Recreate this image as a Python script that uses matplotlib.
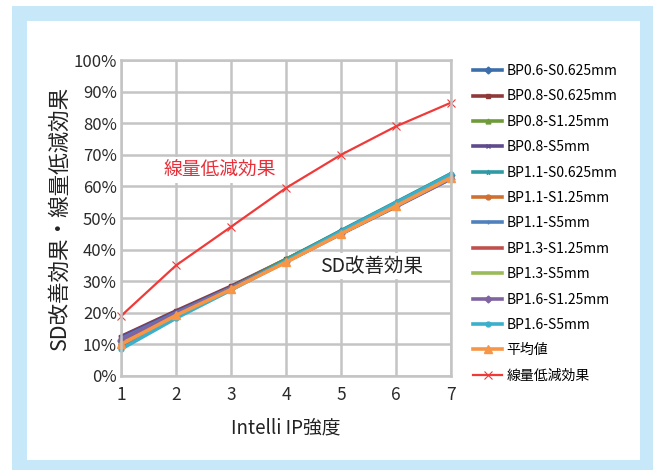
import matplotlib

matplotlib.use("Agg")
import matplotlib.pyplot as plt
from matplotlib.patches import Rectangle

plt.rcParams["font.family"] = ["Noto Sans CJK JP", "DejaVu Sans"]

# Intelli IP strength levels
strength = [1, 2, 3, 4, 5, 6, 7]

# SD improvement (%) per reconstruction setting
series_names = [
    "BP0.6-S0.625mm", "BP0.8-S0.625mm", "BP0.8-S1.25mm", "BP0.8-S5mm",
    "BP1.1-S0.625mm", "BP1.1-S1.25mm", "BP1.1-S5mm", "BP1.3-S1.25mm",
    "BP1.3-S5mm", "BP1.6-S1.25mm", "BP1.6-S5mm",
]
bp06_s0625 = [11.0, 19.8, 28.0, 36.8, 45.8, 54.6, 63.6]
bp08_s0625 = [12.5, 20.6, 28.4, 36.9, 45.6, 54.2, 63.0]
bp08_s125 = [10.5, 19.6, 28.0, 36.9, 45.9, 54.9, 64.0]
bp08_s5 = [12.3, 20.3, 28.1, 36.5, 45.2, 53.8, 62.6]
bp11_s0625 = [8.8, 18.6, 27.6, 36.7, 46.0, 55.0, 64.0]
bp11_s125 = [10.2, 19.3, 27.6, 36.2, 45.1, 53.9, 62.8]
bp11_s5 = [11.8, 20.0, 27.9, 36.3, 45.0, 53.6, 62.4]
bp13_s125 = [9.8, 19.0, 27.4, 36.1, 45.1, 54.0, 63.0]
bp13_s5 = [10.8, 19.5, 27.7, 36.3, 45.2, 54.1, 63.2]
bp16_s125 = [11.5, 19.7, 27.7, 36.2, 45.0, 53.7, 62.5]
bp16_s5 = [8.5, 18.3, 27.2, 36.4, 45.7, 54.8, 63.8]
sd_series = [bp06_s0625, bp08_s0625, bp08_s125, bp08_s5, bp11_s0625, bp11_s125,
             bp11_s5, bp13_s125, bp13_s5, bp16_s125, bp16_s5]

average = [10.0, 19.2, 27.4, 36.0, 45.0, 53.8, 62.8]
dose_reduction = [19.0, 35.0, 47.2, 59.5, 70.0, 79.0, 86.5]

colors = ["#3d6eaa", "#8e3a3a", "#6f9a3a", "#5e4a8c", "#2f9aa6", "#d07030",
          "#4f81bd", "#c0504d", "#9bbb59", "#8064a2", "#3bb0cc"]
markers = ["D", "s", "^", "x", "*", "o", "+", None, None, "D", "o"]

fig = plt.figure(figsize=(6.53, 4.70), dpi=100)
fig.patch.set_facecolor("white")

# light blue frame around the panel
W, H = 653, 470
blue = "#c6e8f8"
frame = [(12, 6, 641, 15), (12, 6, 15, 464), (640, 6, 13, 464), (12, 460, 641, 10)]
for x0, y0, w, h in frame:
    fig.add_artist(Rectangle((x0 / W, 1 - (y0 + h) / H), w / W, h / H,
                             transform=fig.transFigure, color=blue, lw=0, zorder=0))

ax = fig.add_axes([121 / W, 1 - 376 / H, 330 / W, 316 / H])
ax.set_xlim(1, 7)
ax.set_ylim(0, 100)
ax.set_xticks(strength)
ax.set_yticks(range(0, 101, 10))
ax.set_yticklabels([f"{v}%" for v in range(0, 101, 10)])
ax.grid(color="#c4c4c4", lw=1.8)
ax.set_axisbelow(True)
for s in ax.spines.values():
    s.set_color("#c4c4c4")
    s.set_linewidth(1.8)
ax.tick_params(length=0, labelsize=12, colors="#2a2a2a")
ax.tick_params(axis="x", pad=7, labelsize=12.5)
ax.tick_params(axis="y", pad=3)

for name, vals, c, m in zip(series_names, sd_series, colors, markers):
    ax.plot(strength, vals, color=c, lw=2.6, marker=m, ms=3.5, mew=1.0,
            label=name, clip_on=False)
ax.plot(strength, average, color="#f79646", lw=2.6, marker="^", ms=5.5,
        label="平均値", clip_on=False)
ax.plot(strength, dose_reduction, color="#f03a3a", lw=1.6, marker="x", ms=6,
        mew=0.8, label="線量低減効果", clip_on=False)

ax.text(2.8, 65.2, "線量低減効果", color="#e8303a", fontsize=13.5,
        ha="center", va="center",
        bbox=dict(facecolor="white", edgecolor="none", pad=1.5))
ax.text(5.55, 34.8, "SD改善効果", color="#222222", fontsize=14,
        ha="center", va="center",
        bbox=dict(facecolor="white", edgecolor="none", pad=1.5))

ax.set_xlabel("Intelli IP強度", fontsize=13.5, color="#222222", labelpad=10)
ax.set_ylabel("SD改善効果・線量低減効果", fontsize=15.5, color="#222222",
              labelpad=2)

fig.legend(loc="upper left", bbox_to_anchor=(473 / W, 1 - 64 / H),
           frameon=False, fontsize=10, handlelength=2.1, handletextpad=0.3,
           labelspacing=0.82, borderpad=0, borderaxespad=0)

fig.savefig("out.png", dpi=100)
